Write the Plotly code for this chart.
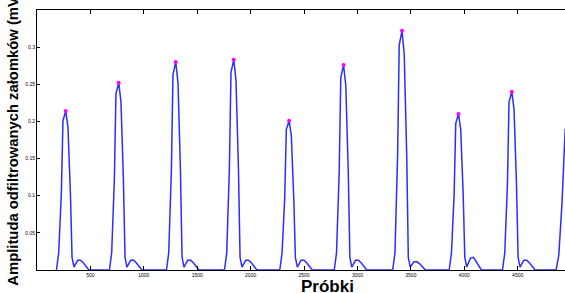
import plotly.graph_objects as go

# Sample indices (Próbki) and filtered wave amplitudes (mV)
probki = [
    182, 203, 228, 243, 269, 290, 313, 328, 346, 381, 409, 437, 475, 487,
    678, 699, 724, 739, 765, 786, 809, 824, 842, 877, 905, 933, 971, 983,
    1212, 1233, 1258, 1273, 1299, 1320, 1343, 1358, 1376, 1411, 1439, 1467, 1505, 1517,
    1755, 1776, 1801, 1816, 1842, 1863, 1886, 1901, 1919, 1954, 1982, 2010, 2048, 2060,
    2273, 2294, 2319, 2334, 2360, 2381, 2404, 2419, 2437, 2472, 2500, 2528, 2566, 2578,
    2783, 2804, 2829, 2844, 2870, 2891, 2914, 2929, 2947, 2982, 3010, 3038, 3076, 3088,
    3330, 3351, 3376, 3391, 3417, 3438, 3461, 3476, 3494, 3529, 3557, 3585, 3623, 3635,
    3859, 3880, 3905, 3920, 3946, 3967, 3990, 4005, 4023, 4058, 4086, 4114, 4152, 4164,
    4358, 4379, 4404, 4419, 4445, 4466, 4489, 4504, 4522, 4557, 4585, 4613, 4651, 4663,
    4860, 4885, 4915, 4945,
]
amplituda = [
    0.000, 0.023, 0.103, 0.201, 0.214, 0.192, 0.103, 0.017, 0.004, 0.013, 0.013, 0.009, 0.002, 0.000,
    0.000, 0.023, 0.121, 0.237, 0.252, 0.227, 0.121, 0.017, 0.004, 0.013, 0.013, 0.009, 0.002, 0.000,
    0.000, 0.023, 0.134, 0.263, 0.280, 0.252, 0.134, 0.017, 0.004, 0.013, 0.013, 0.009, 0.002, 0.000,
    0.000, 0.023, 0.136, 0.266, 0.283, 0.255, 0.136, 0.017, 0.004, 0.013, 0.013, 0.009, 0.002, 0.000,
    0.000, 0.023, 0.096, 0.189, 0.201, 0.181, 0.096, 0.017, 0.004, 0.013, 0.013, 0.009, 0.002, 0.000,
    0.000, 0.023, 0.132, 0.259, 0.276, 0.248, 0.132, 0.017, 0.004, 0.013, 0.013, 0.009, 0.002, 0.000,
    0.000, 0.023, 0.155, 0.303, 0.322, 0.290, 0.155, 0.017, 0.004, 0.011, 0.011, 0.008, 0.002, 0.000,
    0.000, 0.023, 0.101, 0.197, 0.210, 0.189, 0.101, 0.017, 0.004, 0.016, 0.017, 0.010, 0.002, 0.000,
    0.000, 0.023, 0.115, 0.226, 0.240, 0.216, 0.115, 0.017, 0.004, 0.013, 0.013, 0.009, 0.002, 0.000,
    0.000, 0.020, 0.090, 0.190,
]

# Detected peaks
peak_x = [269, 765, 1299, 1842, 2360, 2870, 3417, 3946, 4445]
peak_y = [0.214, 0.252, 0.280, 0.283, 0.201, 0.276, 0.322, 0.210, 0.240]

x_ticks = [500, 1000, 1500, 2000, 2500, 3000, 3500, 4000, 4500]
y_ticks = [0.05, 0.1, 0.15, 0.2, 0.25, 0.3]
y_tick_labels = ["0.05", "0.1", "0.15", "0.2", "0.25", "0.3"]

fig = go.Figure()
fig.add_trace(go.Scatter(
    x=probki, y=amplituda, mode="lines",
    line=dict(color="rgb(45,45,255)", width=1.5),
    showlegend=False, hoverinfo="skip",
))
fig.add_trace(go.Scatter(
    x=peak_x, y=peak_y, mode="markers",
    marker=dict(color="rgb(255,0,255)", size=4, symbol="circle"),
    showlegend=False,
))

tick_font = dict(family="Liberation Sans, Arial", size=5, color="black")

fig.update_layout(
    width=565, height=293,
    margin=dict(l=37, r=0, t=10, b=23),
    paper_bgcolor="white", plot_bgcolor="white",
    xaxis=dict(
        range=[0, 4943], showgrid=False, zeroline=False,
        showline=True, linecolor="black", linewidth=1, mirror="ticks",
        ticks="inside", ticklen=4, tickcolor="black", tickwidth=1,
        tickvals=x_ticks, ticktext=[str(v) for v in x_ticks],
        tickfont=tick_font,
    ),
    yaxis=dict(
        range=[0, 0.35], showgrid=False, zeroline=False,
        showline=True, linecolor="black", linewidth=1, mirror=False,
        ticks="inside", ticklen=3, tickcolor="black", tickwidth=1,
        tickvals=y_ticks, ticktext=y_tick_labels,
        tickfont=tick_font,
    ),
    annotations=[
        dict(text="<b>Amplituda odfiltrowanych załomków (mV)</b>",
             xref="paper", yref="paper", x=-0.0455, y=0.505,
             xanchor="center", yanchor="middle", textangle=-90,
             showarrow=False,
             font=dict(family="Liberation Sans, Arial", size=14.8, color="black")),
        dict(text="<b>Próbki</b>",
             xref="paper", yref="paper", x=0.550, y=-0.063,
             xanchor="center", yanchor="middle",
             showarrow=False,
             font=dict(family="Liberation Sans, Arial", size=17, color="black")),
    ],
)

fig.write_html("out.html",
               config={"displayModeBar": False},
               post_script="document.body.style.margin='0';document.body.style.overflow='hidden';")
